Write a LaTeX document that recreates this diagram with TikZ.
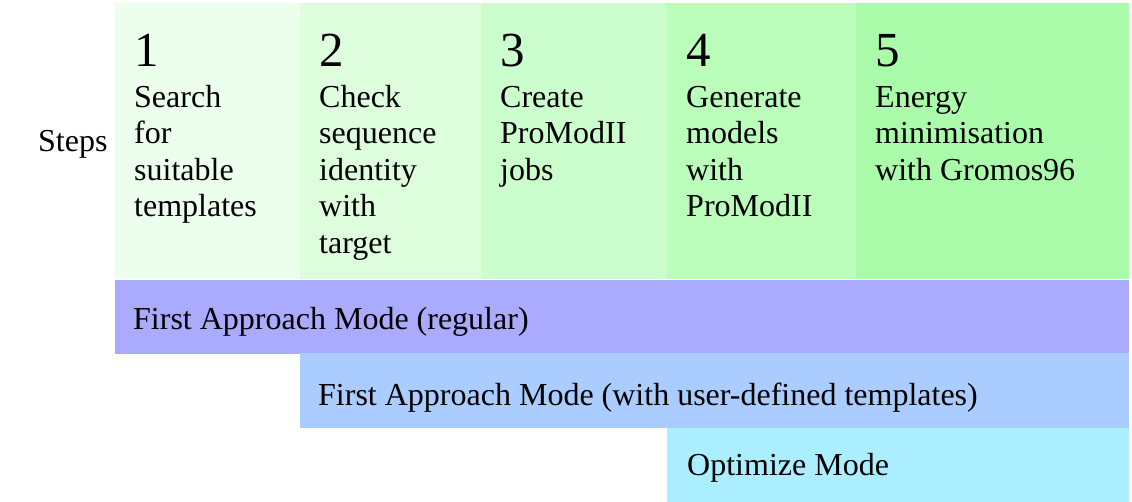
\documentclass[tikz,border=0pt]{standalone}
\usepackage{fontspec}
\setmainfont{Liberation Serif}
\definecolor{step1}{HTML}{ECFEEC}
\definecolor{step2}{HTML}{DDFDDD}
\definecolor{step3}{HTML}{CCFDCC}
\definecolor{step4}{HTML}{BBFDBB}
\definecolor{step5}{HTML}{AAFCAA}
\definecolor{banda}{HTML}{AAAAFF}
\definecolor{bandb}{HTML}{AACCFF}
\definecolor{bandc}{HTML}{AAEEFF}
\begin{document}
\begin{tikzpicture}[x=1pt,y=-1pt,font=\fontsize{32}{36.6}\selectfont,
    stepbox/.style={draw=none,anchor=north west,inner sep=0pt,outer sep=0pt},
    numlabel/.style={anchor=base west,inner sep=0pt,font=\fontsize{49}{49}\selectfont},
    steptext/.style={anchor=north west,inner sep=0pt,align=left},
    modetext/.style={anchor=base west,inner sep=0pt}]
    \useasboundingbox (0,0) rectangle (1132,502);
    \node[modetext] (steps) at (38,152) {Steps};
    % the five steps (first line baseline at 107)
    \foreach \i/\xa/\xb/\txt in {1/115/300/{Search\\for\\suitable\\templates},
        2/300/481/{Check\\sequence\\identity\\with\\target},
        3/481/667/{Create\\ProModII\\jobs},
        4/667/856/{Generate\\models\\with\\ProModII},
        5/856/1129/{Energy\\minimisation\\with Gromos96}}
    {
        \node[stepbox,fill=step\i,minimum width={(\xb-\xa)*1pt},minimum height=276pt] (col\i) at (\xa,3) {};
        \node[numlabel] (num\i) at (\xa+19,67) {\i};
        \node[steptext] (txt\i) at (\xa+19,81.38) {\strut\txt};
    }
    % modes
    \node[stepbox,fill=banda,minimum width=1014pt,minimum height=74pt] (banda) at (115,280) {};
    \node[stepbox,fill=bandb,minimum width=829pt,minimum height=75pt] (bandb) at (300,353) {};
    \node[stepbox,fill=bandc,minimum width=462pt,minimum height=75pt] (bandc) at (667,428) {};
    \node[modetext] (modea) at (133,330) {First Approach Mode (regular)};
    \node[modetext] (modeb) at (318,405) {First Approach Mode (with user-defined templates)};
    \node[modetext] (modec) at (687,475) {Optimize Mode};
\end{tikzpicture}
\end{document}
